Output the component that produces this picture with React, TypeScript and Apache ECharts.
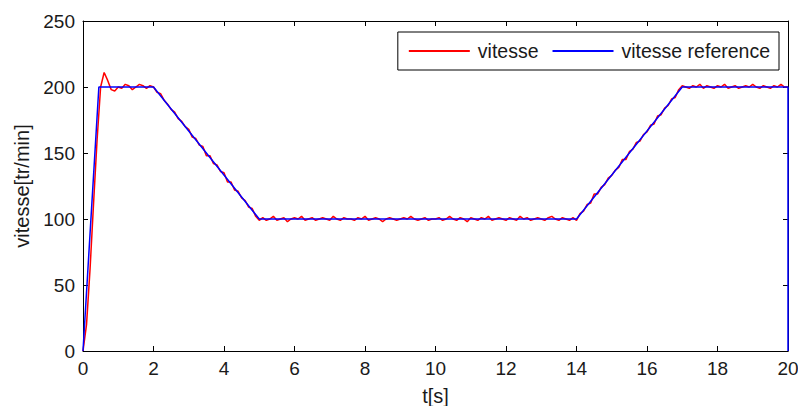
import React, { useEffect, useRef } from "react";
import * as echarts from "echarts";

// measured speed, sampled every 0.1 s from 0 to 20 s (rows = 1 s)
const speedValues: number[] = [
  0, 20, 62, 112, 160, 200, 211, 205, 198, 197,
  200, 199, 202, 201, 198, 200, 202, 201, 199, 201,
  200, 196, 195, 190, 187, 183, 181, 176, 174, 170,
  168, 162, 161, 156, 155, 148, 148, 142, 141, 136,
  135, 128, 128, 122, 121, 116, 114, 109, 108, 102,
  99, 101, 99, 100, 102, 99, 100, 101, 98, 100,
  101, 100, 102, 99, 100, 101, 99, 100, 101, 100,
  99, 102, 100, 99, 101, 100, 100, 99, 101, 100,
  102, 99, 100, 101, 100, 98, 100, 101, 100, 99,
  100, 101, 100, 102, 100, 99, 100, 101, 99, 100,
  100, 101, 99, 100, 102, 100, 99, 101, 100, 98,
  101, 100, 99, 101, 100, 102, 99, 100, 101, 100,
  99, 101, 100, 99, 102, 100, 101, 99, 100, 101,
  100, 99, 101, 102, 100, 99, 101, 100, 99, 101,
  99, 104, 106, 111, 112, 119, 119, 124, 126, 131,
  133, 137, 139, 145, 145, 151, 153, 158, 159, 164,
  166, 171, 172, 178, 179, 184, 186, 191, 192, 198,
  201, 200, 199, 201, 200, 202, 199, 201, 200, 199,
  201, 200, 202, 199, 200, 201, 199, 200, 201, 200,
  202, 200, 199, 201, 200, 199, 201, 200, 202, 200,
  200,
];
const sampleStep = 0.1;

// reference speed profile breakpoints
const refTimes: number[] = [0, 0.45, 2, 5, 14, 17, 20, 20];
const refValues: number[] = [0, 200, 200, 100, 100, 200, 200, 0];

const seriesNames = ["vitesse", "vitesse reference"];
const xTicks = { min: 0, max: 20, interval: 2 };
const yTicks = { min: 0, max: 250, interval: 50 };

const FONT = "'Liberation Sans', Arial, sans-serif";
const TXT = "#1a1a1a";
const FS = 19;

export default function App() {
  const ref = useRef<HTMLDivElement>(null);
  useEffect(() => {
    if (!ref.current) return;
    const chart = echarts.init(ref.current, undefined, { renderer: "svg" });
    const speedData = speedValues.map((v, i) => [+(i * sampleStep).toFixed(2), v]);
    const refData = refTimes.map((t, i) => [t, refValues[i]]);
    const axLine = { show: true, lineStyle: { color: "#000", width: 1 } };
    const tick = { show: true, inside: true, length: 5, lineStyle: { color: "#000", width: 1 } };
    chart.setOption({
      animation: false,
      backgroundColor: "#fff",
      textStyle: { fontFamily: FONT },
      grid: { left: 83, right: 10, top: 21, bottom: 55, containLabel: false, outerBoundsMode: "none" },
      legend: {
        right: 19,
        top: 32,
        orient: "horizontal",
        data: seriesNames,
        icon: "rect",
        itemWidth: 61,
        itemHeight: 2,
        itemGap: 14,
        padding: [9, 9, 9, 11],
        borderColor: "#000",
        borderWidth: 1,
        backgroundColor: "#fff",
        textStyle: { fontSize: 19.5, color: TXT, fontFamily: FONT, padding: [0, 0, 0, 3] },
      },
      xAxis: [
        {
          type: "value",
          min: xTicks.min,
          max: xTicks.max,
          interval: xTicks.interval,
          name: "t[s]",
          nameLocation: "middle",
          nameGap: 35,
          nameTextStyle: { fontSize: 20, color: TXT, fontFamily: FONT },
          axisLine: { ...axLine, onZero: false },
          axisTick: tick,
          splitLine: { show: false },
          axisLabel: { fontSize: FS, color: TXT, margin: 8, fontFamily: FONT },
        },
        {
          type: "value",
          position: "top",
          min: xTicks.min,
          max: xTicks.max,
          interval: xTicks.interval,
          axisLine: { ...axLine, onZero: false },
          axisTick: tick,
          splitLine: { show: false },
          axisLabel: { show: false },
        },
      ],
      yAxis: [
        {
          type: "value",
          min: yTicks.min,
          max: yTicks.max,
          interval: yTicks.interval,
          name: "vitesse[tr/min]",
          nameLocation: "middle",
          nameGap: 49,
          nameTextStyle: { fontSize: 20, color: TXT, fontFamily: FONT },
          axisLine: { ...axLine, onZero: false },
          axisTick: tick,
          splitLine: { show: false },
          axisLabel: { fontSize: FS, color: TXT, margin: 8, fontFamily: FONT },
        },
        {
          type: "value",
          position: "right",
          min: yTicks.min,
          max: yTicks.max,
          interval: yTicks.interval,
          axisLine: { ...axLine, onZero: false },
          axisTick: tick,
          splitLine: { show: false },
          axisLabel: { show: false },
        },
      ],
      series: [
        {
          name: seriesNames[0],
          type: "line",
          data: speedData,
          showSymbol: false,
          symbol: "none",
          lineStyle: { color: "#ff0000", width: 1.5 },
          itemStyle: { color: "#ff0000" },
        },
        {
          name: seriesNames[1],
          type: "line",
          data: refData,
          showSymbol: false,
          symbol: "none",
          lineStyle: { color: "#0000ff", width: 1.5 },
          itemStyle: { color: "#0000ff" },
        },
      ],
    });
    return () => chart.dispose();
  }, []);
  return <div ref={ref} style={{ width: 798, height: 406, position: "absolute", left: 0, top: 0 }} />;
}
